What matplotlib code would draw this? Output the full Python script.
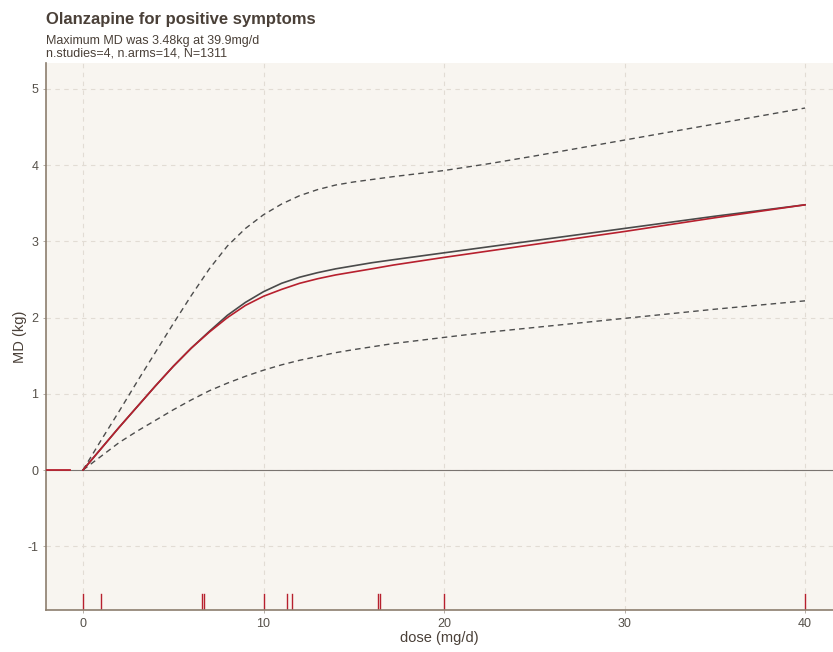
import matplotlib
matplotlib.use('Agg')

import matplotlib.pyplot as plt

plt.rcParams['font.family'] = ['Liberation Sans', 'DejaVu Sans']
plt.rcParams['axes.unicode_minus'] = False

# dose-response curves (dose in mg/d, mean difference in kg)
dose = [0, 1, 2, 3, 4, 5, 6, 7, 8, 9, 10, 11, 12, 13, 14, 15, 16, 17.2, 20,
        25, 30, 35, 40]
md_pooled = [0, 0.28, 0.56, 0.83, 1.10, 1.36, 1.60, 1.82, 2.03, 2.20, 2.34,
             2.45, 2.53, 2.59, 2.64, 2.68, 2.72, 2.76, 2.85, 3.01, 3.17, 3.33,
             3.48]
md_model = [0, 0.28, 0.56, 0.83, 1.10, 1.36, 1.60, 1.81, 2.00, 2.16, 2.28,
            2.37, 2.45, 2.51, 2.56, 2.60, 2.64, 2.69, 2.79, 2.96, 3.13, 3.31,
            3.48]

ci_dose = [0, 1, 2, 3, 4, 5, 6, 7, 8, 9, 10, 11, 12, 13, 14, 15, 17.2, 20,
           22.5, 25, 30, 35, 40]
ci_upper = [0, 0.39, 0.77, 1.16, 1.54, 1.92, 2.29, 2.64, 2.94, 3.17, 3.35,
            3.49, 3.60, 3.68, 3.74, 3.78, 3.85, 3.93, 4.02, 4.12, 4.33, 4.54,
            4.75]
ci_lower = [0, 0.18, 0.36, 0.51, 0.65, 0.79, 0.92, 1.04, 1.14, 1.23, 1.31,
            1.38, 1.44, 1.49, 1.54, 1.58, 1.66, 1.74, 1.81, 1.87, 1.99, 2.11,
            2.22]

# doses of the included study arms
arm_doses = [0, 1, 6.6, 6.7, 10, 11.3, 11.6, 16.35, 16.45, 20, 40]

# zero segment at the left edge
zero_x = [-2.05, -0.7]
zero_y = [0, 0]

BG = '#F8F5F0'
GRID = '#E2DCD4'
SPINE = '#8C7E6E'
TEXT = '#4A4038'
RED = '#B7202E'

fig = plt.figure(figsize=(8.33, 6.52), dpi=100, facecolor='white')
ax = fig.add_axes([46 / 833, 1 - 610 / 652, 1 - 46 / 833, (610 - 63) / 652])
ax.set_facecolor(BG)

ax.set_xlim(-2.05, 41.55)
ax.set_ylim(-1.837, 5.341)
ax.set_xticks([0, 10, 20, 30, 40])
ax.set_yticks([-1, 0, 1, 2, 3, 4, 5])
ax.grid(True, color=GRID, linestyle=(0, (4, 4)), linewidth=0.8)
ax.set_axisbelow(True)

ax.axhline(0, color='#7A7470', linewidth=0.8, zorder=2)
ax.plot(zero_x, zero_y, color=RED, linewidth=1.3, zorder=3)

ax.plot(ci_dose, ci_upper, color='#4D4D4D', linestyle=(0, (4, 3)), linewidth=1.0)
ax.plot(ci_dose, ci_lower, color='#4D4D4D', linestyle=(0, (4, 3)), linewidth=1.0)
ax.plot(dose, md_pooled, color='#4A4A4A', linewidth=1.2)
ax.plot(dose, md_model, color=RED, linewidth=1.2)

# rug of arm doses along the bottom
for d in arm_doses:
    ax.axvline(d, ymin=0, ymax=0.03, color=RED, linewidth=1.0)

for side in ['top', 'right']:
    ax.spines[side].set_visible(False)
for side in ['left', 'bottom']:
    ax.spines[side].set_color(SPINE)
    ax.spines[side].set_linewidth(1.2)

ax.tick_params(length=2.5, width=0.6, color='#A8A098', labelsize=9,
               labelcolor='#555049', pad=3)

ax.set_xlabel('dose (mg/d)', fontsize=10.5, color=TEXT, labelpad=1)
ax.set_ylabel('MD (kg)', fontsize=10.5, color=TEXT, labelpad=0)

fig.text(46 / 833, 1 - 24 / 652, 'Olanzapine for positive symptoms',
         fontsize=12, fontweight='bold', color=TEXT, ha='left', va='baseline')
fig.text(46 / 833, 1 - 44 / 652, 'Maximum MD was 3.48kg at 39.9mg/d',
         fontsize=9, color=TEXT, ha='left', va='baseline')
fig.text(46 / 833, 1 - 57 / 652, 'n.studies=4, n.arms=14, N=1311',
         fontsize=9, color=TEXT, ha='left', va='baseline')

fig.savefig('out.png', dpi=100, facecolor='white')
